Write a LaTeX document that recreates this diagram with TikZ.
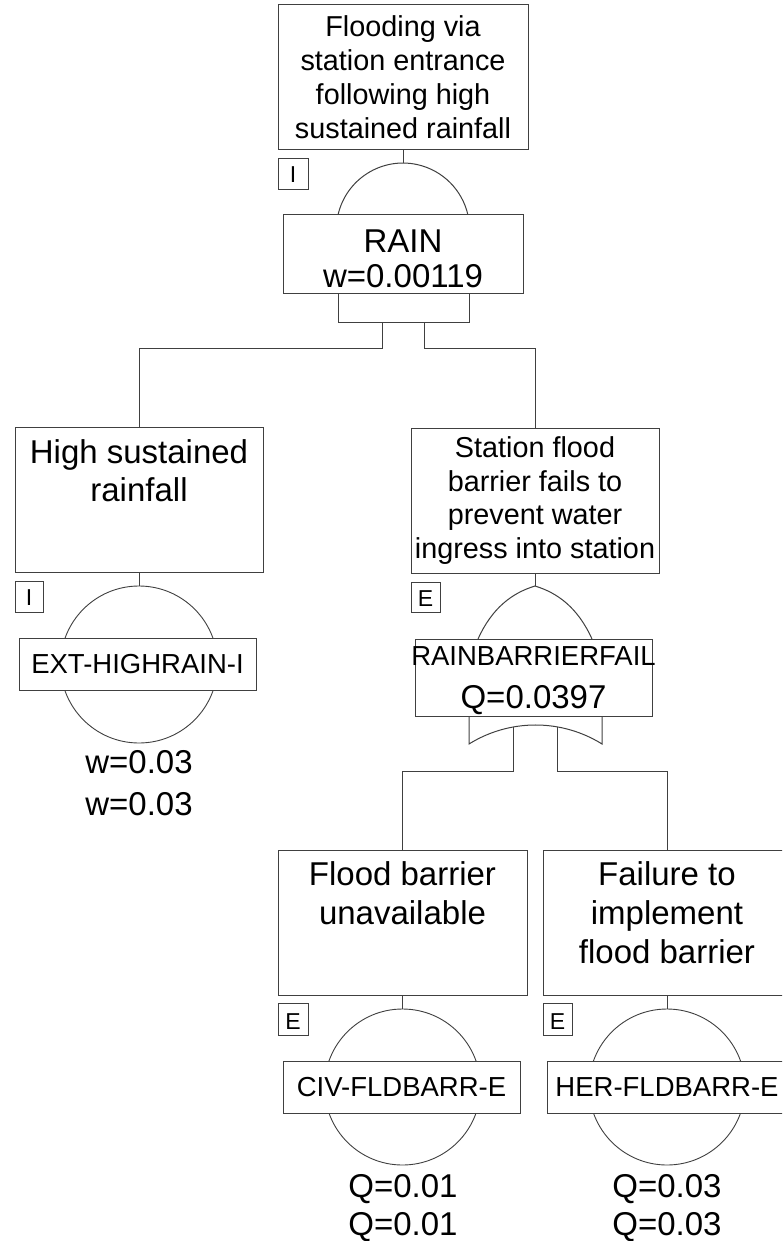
\documentclass[tikz,border=0pt]{standalone}
\usepackage{fontspec}
\setmainfont{Liberation Sans}
\definecolor{lc}{RGB}{64,64,64}
\tikzset{
  ln/.style={draw=lc, line width=1pt},
  bx/.style={draw=lc, line width=1pt, fill=white, rectangle, inner sep=0pt},
  ev/.style={draw=lc, line width=0.9pt, fill=white, circle, inner sep=0pt},
  tbig/.style={anchor=base, align=center, inner sep=0pt, font=\fontsize{33}{39}\selectfont},
  tmid/.style={anchor=base, align=center, inner sep=0pt, font=\fontsize{28.8}{34}\selectfont},
  tsml/.style={anchor=base, inner sep=0pt, font=\fontsize{27.5}{33}\selectfont},
  tlet/.style={anchor=base, inner sep=0pt, font=\fontsize{23}{26}\selectfont},
}
\begin{document}
\begin{tikzpicture}[x=1pt,y=-1pt]
\useasboundingbox (0,0) rectangle (782,1241);
\clip (0,0) rectangle (782,1241);
% ---------- top event ----------
\node[bx, minimum width=250, minimum height=145] (top) at (403,77.5) {};
\node[tmid] (topT) at (403,139) {Flooding via\\station entrance\\following high\\sustained rainfall};
\node[bx, minimum width=30, minimum height=31] (lI1) at (293,174.5) {};
\node[tlet] (lI1t) at (293,183) {I};
% AND gate (RAIN)
\coordinate (gA) at (403,163);
\draw[ln, fill=white] (338,215) arc[start angle=192.7, end angle=347.3, radius=66.6];
\draw[ln] (top.south) -- (gA);
\node[bx, minimum width=240, minimum height=78] (rain) at (403,254) {};
\node[tbig] (rainT) at (403,252) {RAIN};
\node[tbig] (rainW) at (403,287) {w=0.00119};
\draw[ln] (338,293) -- (338,322) -- (469,322) -- (469,293);
\coordinate (uL) at (382,322);
\coordinate (uR) at (424,322);
% ---------- left branch ----------
\node[bx, minimum width=248, minimum height=145] (high) at (139,499.5) {};
\node[tbig, font=\fontsize{33}{38}\selectfont] (highT) at (139,501) {High sustained\\rainfall};
\draw[ln] (uL) -- (382,348) -| (high.north);
\node[bx, minimum width=28, minimum height=31] (lI2) at (29,596.5) {};
\node[tlet] (lI2t) at (29,605) {I};
\node[ev, minimum size=157] (c1) at (139,664.5) {};
\draw[ln] (high.south) -- (c1.north);
\node[bx, minimum width=237, minimum height=52] (ext) at (137.5,664) {};
\node[tsml] (extT) at (137.5,673) {EXT-HIGHRAIN-I};
\node[tbig] (w1) at (139,773) {w=0.03};
\node[tbig] (w2) at (139,815) {w=0.03};
% ---------- right branch ----------
\node[bx, minimum width=248, minimum height=145] (stat) at (535,500.5) {};
\node[tmid, font=\fontsize{28.8}{33.5}\selectfont] (statT) at (535,558) {Station flood\\barrier fails to\\prevent water\\ingress into station};
\draw[ln] (uR) -- (424,348) -| (stat.north);
\node[bx, minimum width=29, minimum height=30] (lE1) at (425.5,597) {};
\node[tlet] (lE1t) at (425.5,606) {E};
% OR gate
\coordinate (gO) at (535,586);
\draw[ln, fill=white] (478,639) .. controls (492,608) and (512,593) .. (gO)
   .. controls (558,593) and (578,608) .. (592,639);
\draw[ln] (stat.south) -- (gO);
\node[bx, minimum width=237, minimum height=77] (rbf) at (533.5,677.5) {};
\node[tsml] (rbfT) at (533.5,665) {RAINBARRIERFAIL};
\node[tbig] (rbfQ) at (533.5,708) {Q=0.0397};
\draw[ln] (469,716) -- (469,744) arc[start angle=238.1, end angle=301.9, radius=125.9] -- (602,716);
\coordinate (oL) at (513,727);
\coordinate (oR) at (557,727);
% ---------- bottom left ----------
\node[bx, minimum width=249, minimum height=145] (flood) at (402.5,922.5) {};
\node[tbig] (floodT) at (402.5,924) {Flood barrier\\unavailable};
\draw[ln] (oL) -- (513,771) -| (flood.north);
\node[bx, minimum width=30, minimum height=32] (lE2) at (293,1019) {};
\node[tlet] (lE2t) at (293,1029) {E};
\node[ev, minimum size=156] (c2) at (402.5,1087) {};
\draw[ln] (flood.south) -- (c2.north);
\node[bx, minimum width=237, minimum height=52] (civ) at (401.5,1087) {};
\node[tsml] (civT) at (401.5,1096) {CIV-FLDBARR-E};
\node[tbig] (q1) at (403,1197) {Q=0.01};
\node[tbig] (q2) at (403,1235) {Q=0.01};
% ---------- bottom right ----------
\node[bx, minimum width=248, minimum height=145] (fail) at (667,922.5) {};
\node[tbig] (failT) at (667,963) {Failure to\\implement\\flood barrier};
\draw[ln] (oR) -- (557,771) -| (fail.north);
\node[bx, minimum width=29, minimum height=32] (lE3) at (557.5,1019) {};
\node[tlet] (lE3t) at (557.5,1029) {E};
\node[ev, minimum size=156] (c3) at (667,1087) {};
\draw[ln] (fail.south) -- (c3.north);
\node[bx, minimum width=240, minimum height=52] (her) at (667,1087) {};
\node[tsml] (herT) at (667,1096) {HER-FLDBARR-E};
\node[tbig] (q3) at (667,1197) {Q=0.03};
\node[tbig] (q4) at (667,1235) {Q=0.03};
\end{tikzpicture}
\end{document}
